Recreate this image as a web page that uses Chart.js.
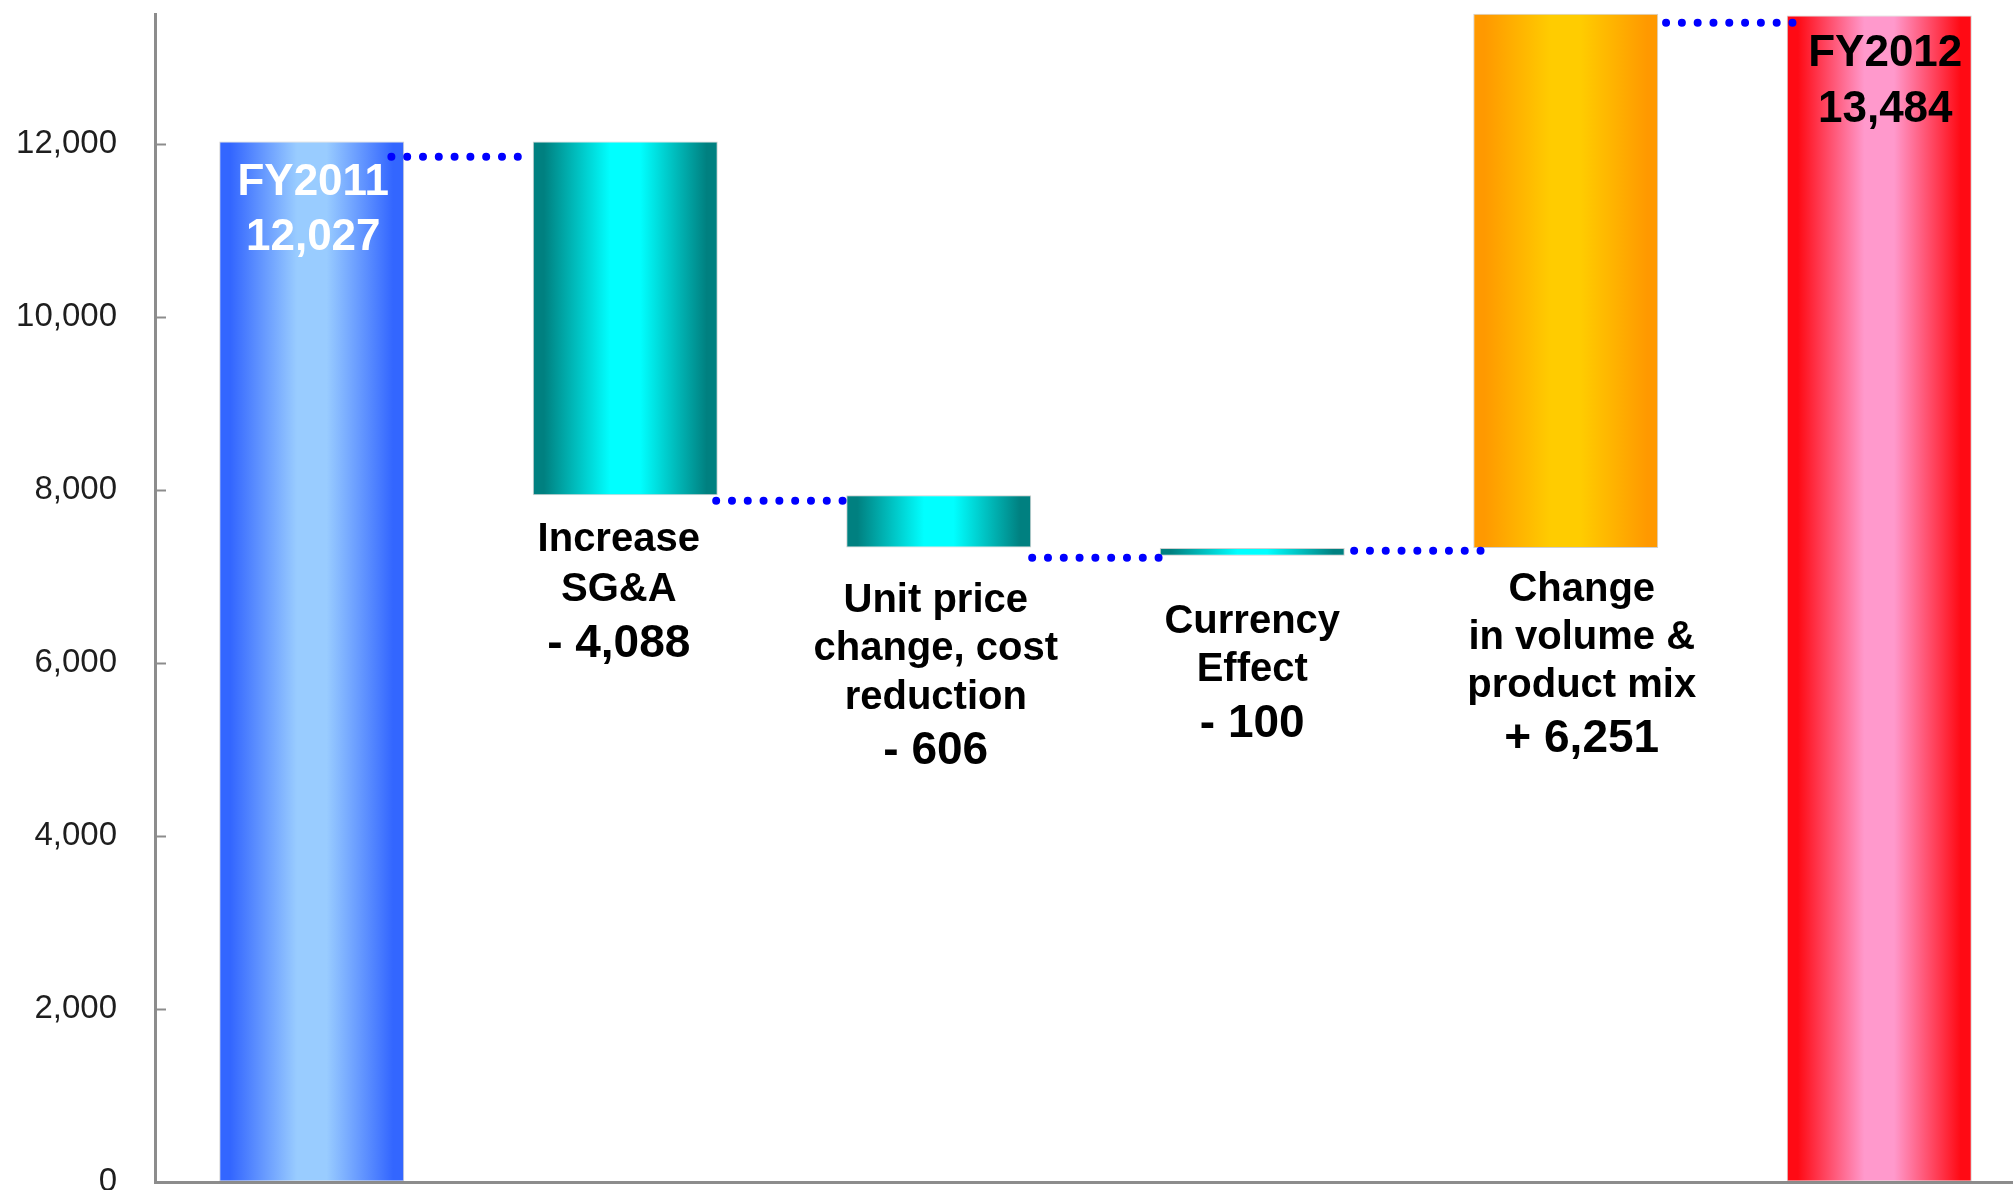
<!DOCTYPE html>
<html>
<head>
<meta charset="utf-8">
<title>Operating income bridge FY2011 - FY2012</title>
<script src="https://cdn.jsdelivr.net/npm/chart.js@4.4.1/dist/chart.umd.min.js"></script>
<style>
  html, body { margin: 0; padding: 0; background: #fff; overflow: hidden; }
  #bridge { position: absolute; left: 0; top: 0; }
</style>
</head>
<body>
<canvas id="bridge" width="2040" height="1200"></canvas>
<script>
// values
const categories = ['FY2011', 'Increase\nSG&A', 'Unit price\nchange, cost\nreduction', 'Currency\nEffect', 'Change\nin volume &\nproduct mix', 'FY2012'];
const valueLabels = ['12,027', '- 4,088', '- 606', '- 100', '+ 6,251', '13,484'];
const barLow = [0, 7939, 7333, 7237, 7329, 0];
const barHigh = [12027, 12027, 7939, 7329, 13503, 13484];
const yTicks = [0, 2000, 4000, 6000, 8000, 10000, 12000];

// dotted connectors: x in category units, y in value units
const connFrom = [0.254, 1.290, 2.298, 3.325, 4.320];
const connTo = [0.660, 1.694, 2.704, 3.731, 4.727];
const connLevel = [11850, 7873, 7214, 7295, 13399];

// bar gradient colours (edge / centre)
const barEdge = ['#3366ff', '#008080', '#008080', '#008080', '#ff9900', '#ff0a14'];
const barMid = ['#99ccff', '#00ffff', '#00ffff', '#00ffff', '#ffcc00', '#ff99cc'];
const barPct = 0.59;

const FONT = '"Liberation Sans", Arial, sans-serif';
Chart.defaults.font.family = FONT;

function barGradient(ctx) {
    const chart = ctx.chart;
    const i = ctx.dataIndex;
    if (!chart.chartArea || ctx.type !== 'data') return barEdge[i];
    const cx = chart.scales.x.getPixelForValue(i);
    const half = chart.chartArea.width / categories.length * barPct / 2;
    const g = chart.ctx.createLinearGradient(cx - half, 0, cx + half, 0);
    g.addColorStop(0, barEdge[i]);
    g.addColorStop(0.06, barEdge[i]);
    g.addColorStop(0.42, barMid[i]);
    g.addColorStop(0.58, barMid[i]);
    g.addColorStop(0.94, barEdge[i]);
    g.addColorStop(1, barEdge[i]);
    return g;
}

// where the text blocks sit relative to their bar (pixels)
const labelPlacement = [
    { inside: true, color: '#ffffff', dx: 1.5, first: 54, step: 54.7 },
    { dx: -6.5, first: 55.7, step: 50.3, valueGap: 55.7 },
    { dx: -3, first: 64.3, step: 48.5, valueGap: 55 },
    { dx: 0, first: 77, step: 48, valueGap: 56 },
    { dx: 16, first: 52.7, step: 48, valueGap: 55 },
    { inside: true, color: '#000000', dx: 6, first: 51, step: 55.5 }
];

const barLabels = {
    id: 'barLabels',
    afterDatasetsDraw(chart) {
        const ctx = chart.ctx;
        const meta = chart.getDatasetMeta(0);
        ctx.save();
        ctx.textAlign = 'center';
        ctx.textBaseline = 'alphabetic';
        meta.data.forEach((el, i) => {
            const p = labelPlacement[i];
            const x = el.x + p.dx;
            const top = Math.min(el.y, el.base);
            const bottom = Math.max(el.y, el.base);
            const lines = categories[i].split('\n');
            if (p.inside) {
                ctx.fillStyle = p.color;
                ctx.font = 'bold 44px ' + FONT;
                ctx.fillText(lines[0], x, top + p.first);
                ctx.fillText(valueLabels[i], x, top + p.first + p.step);
            } else {
                ctx.fillStyle = '#000';
                ctx.font = 'bold 40px ' + FONT;
                let y = bottom + p.first;
                lines.forEach((t, k) => {
                    if (k > 0) y += p.step;
                    ctx.fillText(t, x, y);
                });
                ctx.font = 'bold 46px ' + FONT;
                ctx.fillText(valueLabels[i], x, y + p.valueGap);
            }
        });
        ctx.restore();
    }
};

// blue dotted connector lines, placed through the x (category) and y scales
const connectors = {
    id: 'connectors',
    afterDatasetsDraw(chart) {
        const { x, y } = chart.scales;
        const ctx = chart.ctx;
        ctx.save();
        ctx.strokeStyle = '#0000ff';
        ctx.lineWidth = 8;
        ctx.lineCap = 'round';
        ctx.setLineDash([0, 15.8]);
        connLevel.forEach((lv, i) => {
            const py = y.getPixelForValue(lv);
            ctx.beginPath();
            ctx.moveTo(x.getPixelForValue(connFrom[i]), py);
            ctx.lineTo(x.getPixelForValue(connTo[i]), py);
            ctx.stroke();
        });
        ctx.restore();
    }
};

// short tick marks pointing into the plot
const innerTicks = {
    id: 'innerTicks',
    afterDraw(chart) {
        const y = chart.scales.y;
        const ctx = chart.ctx;
        ctx.save();
        ctx.strokeStyle = '#8c8c8c';
        ctx.lineWidth = 2;
        y.ticks.forEach(t => {
            if (t.value === 0) return;
            const py = Math.round(y.getPixelForValue(t.value)) + 0.5;
            ctx.beginPath();
            ctx.moveTo(chart.chartArea.left, py);
            ctx.lineTo(chart.chartArea.left + 11, py);
            ctx.stroke();
        });
        ctx.restore();
    }
};

new Chart(document.getElementById('bridge'), {
    type: 'bar',
    data: {
        labels: categories,
        datasets: [{
            data: barLow.map((lo, i) => [lo, barHigh[i]]),
            backgroundColor: barGradient,
            borderColor: 'rgba(120,120,120,0.35)',
            borderWidth: 1,
            borderSkipped: false,
            barPercentage: barPct,
            categoryPercentage: 1,
            grouped: false,
            clip: false
        }]
    },
    options: {
        responsive: false,
        animation: false,
        devicePixelRatio: 1,
        layout: { padding: { top: 14, right: 4, left: 0, bottom: 0 } },
        plugins: {
            legend: { display: false },
            tooltip: { enabled: false }
        },
        scales: {
            x: {
                offset: true,
                ticks: { display: false },
                grid: { display: false, drawTicks: false },
                border: { display: true, color: '#8c8c8c', width: 3 }
            },
            y: {
                min: 0,
                max: 13500,
                afterBuildTicks: s => { s.ticks = yTicks.map(v => ({ value: v })); },
                afterFit: s => { s.width = 155; s.paddingTop = 0; s.paddingBottom = 18; },
                ticks: {
                    color: '#1e1e1e',
                    padding: 0,
                    font: { size: 33, lineHeight: 1.1 },
                    callback: v => v.toLocaleString('en-US')
                },
                grid: { display: true, drawOnChartArea: false, drawTicks: true, tickLength: 38, tickColor: 'rgba(0,0,0,0)' },
                border: { display: true, color: '#8c8c8c', width: 3 }
            }
        }
    },
    plugins: [barLabels, connectors, innerTicks]
});
</script>
</body>
</html>
